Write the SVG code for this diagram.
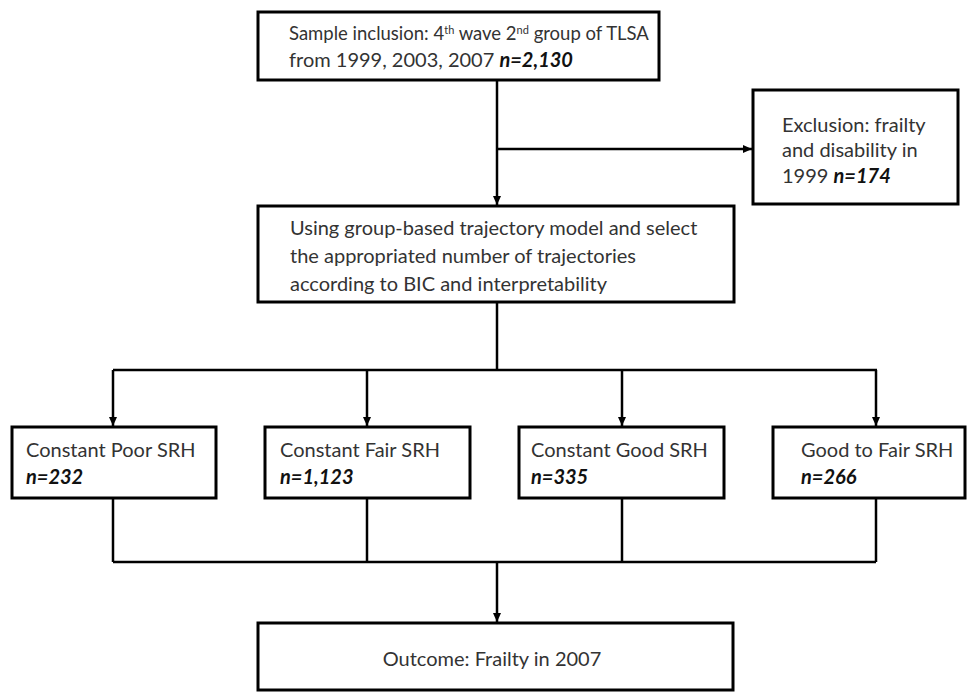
<svg xmlns="http://www.w3.org/2000/svg" width="967" height="694" viewBox="0 0 967 694">
<defs>
<marker id="ah" markerWidth="10" markerHeight="10" refX="9" refY="5" orient="auto" markerUnits="userSpaceOnUse">
<path d="M0,1 L9,5 L0,9 Z" fill="#000"/>
</marker>
<style>
.box{fill:#fff;stroke:#000;stroke-width:3}
.t{font-family:Lato,"Open Sans","Liberation Sans",sans-serif;font-size:20px;fill:#333}
.b{font-weight:bold;font-style:italic;fill:#111}
.c{fill:none;stroke:#000;stroke-width:2.5}
.sup{font-size:11px}
</style>
</defs>
<rect width="967" height="694" fill="#fff"/>
<g id="connectors">
<line class="c" x1="497" y1="80" x2="497" y2="205" marker-end="url(#ah)"/>
<line class="c" x1="497" y1="149" x2="752" y2="149" marker-end="url(#ah)"/>
<line class="c" x1="497" y1="302" x2="497" y2="370"/>
<line class="c" x1="113" y1="370" x2="877" y2="370"/>
<line class="c" x1="113" y1="370" x2="113" y2="426" marker-end="url(#ah)"/>
<line class="c" x1="367" y1="370" x2="367" y2="426" marker-end="url(#ah)"/>
<line class="c" x1="622" y1="370" x2="622" y2="426" marker-end="url(#ah)"/>
<line class="c" x1="876" y1="370" x2="876" y2="426" marker-end="url(#ah)"/>
<line class="c" x1="113" y1="498" x2="113" y2="562"/>
<line class="c" x1="367" y1="498" x2="367" y2="562"/>
<line class="c" x1="622" y1="498" x2="622" y2="562"/>
<line class="c" x1="876" y1="498" x2="876" y2="562"/>
<line class="c" x1="113" y1="562" x2="876" y2="562"/>
<line class="c" x1="497" y1="562" x2="497" y2="622" marker-end="url(#ah)"/>
</g>
<g id="inclusion">
<rect class="box" x="258" y="12" width="401" height="68"/>
<text class="t" x="289" y="40" style="font-size:18.5px">Sample inclusion: 4<tspan class="sup" baseline-shift="super">th</tspan> wave 2<tspan class="sup" baseline-shift="super">nd</tspan> group of TLSA</text>
<text class="t" x="289" y="67">from 1999, 2003, 2007 <tspan class="b">n=2,130</tspan></text>
</g>
<g id="exclusion">
<rect class="box" x="753" y="90" width="205" height="114"/>
<text class="t" x="782" y="132">Exclusion: frailty</text>
<text class="t" x="782" y="157">and disability in</text>
<text class="t" x="782" y="183">1999 <tspan class="b">n=174</tspan></text>
</g>
<g id="model">
<rect class="box" x="258" y="206" width="476" height="96"/>
<text class="t" x="290" y="235">Using group-based trajectory model and select</text>
<text class="t" x="290" y="263">the appropriated number of trajectories</text>
<text class="t" x="290" y="291">according to BIC and interpretability</text>
</g>
<g id="poor">
<rect class="box" x="12" y="427" width="204" height="71"/>
<text class="t" x="26" y="457">Constant Poor SRH</text>
<text class="t b" x="26" y="484">n=232</text>
</g>
<g id="fair">
<rect class="box" x="265" y="427" width="205" height="71"/>
<text class="t" x="280" y="457">Constant Fair SRH</text>
<text class="t b" x="280" y="484">n=1,123</text>
</g>
<g id="good">
<rect class="box" x="519" y="427" width="205" height="71"/>
<text class="t" x="531" y="457">Constant Good SRH</text>
<text class="t b" x="531" y="484">n=335</text>
</g>
<g id="goodfair">
<rect class="box" x="773" y="427" width="192" height="71"/>
<text class="t" x="801" y="457">Good to Fair SRH</text>
<text class="t b" x="801" y="484">n=266</text>
</g>
<g id="outcome">
<rect class="box" x="258" y="623" width="475" height="67"/>
<text class="t" x="492" y="666" text-anchor="middle">Outcome: Frailty in 2007</text>
</g>
</svg>
